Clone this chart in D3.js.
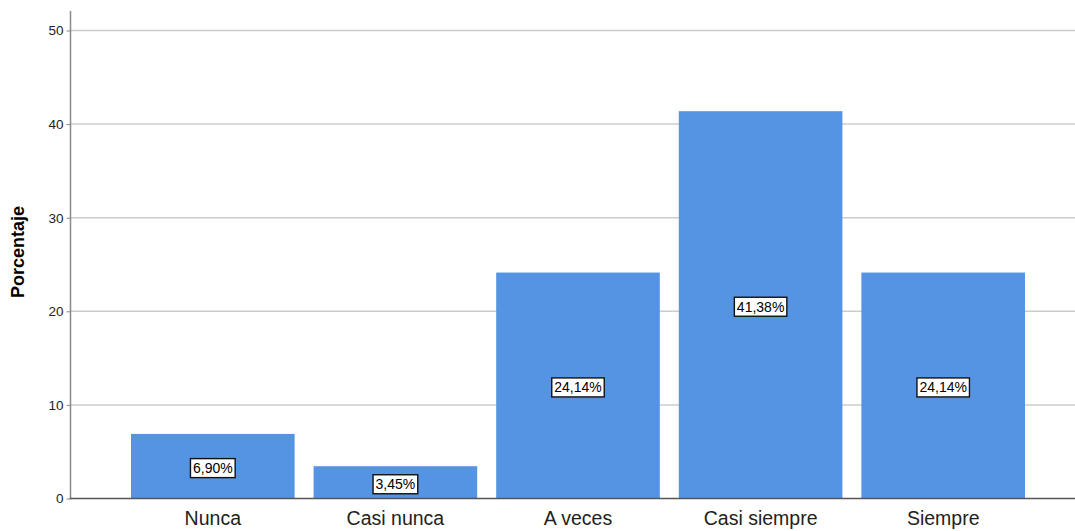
<!DOCTYPE html>
<html>
<head>
<meta charset="utf-8">
<script src="https://cdn.jsdelivr.net/npm/d3@7"></script>
<style>
  html, body { margin: 0; padding: 0; background: #ffffff; }
  svg { display: block; }
</style>
</head>
<body>
<svg id="chart" width="1075" height="531"></svg>
<script>
// Respuestas y porcentajes
const categories = ["Nunca", "Casi nunca", "A veces", "Casi siempre", "Siempre"];
const percentages = [6.90, 3.45, 24.14, 41.38, 24.14];
const yTicks = [0, 10, 20, 30, 40, 50];

const svg = d3.select("#chart");
const W = 1075, H = 531;
const axisX = 70.5, axisTop = 11, yZero = 498.5, yFifty = 30.5;

const y = d3.scaleLinear().domain([0, 50]).range([yZero, yFifty]);
const x = d3.scaleBand().domain(categories).range([131, 1025]).paddingInner(0.104).paddingOuter(0);

// Líneas de cuadrícula
svg.append("g")
  .selectAll("line")
  .data(yTicks.filter(d => d > 0))
  .join("line")
  .attr("x1", axisX).attr("x2", W)
  .attr("y1", d => y(d)).attr("y2", d => y(d))
  .attr("stroke", "#cccccc").attr("stroke-width", 1.5);

// Barras
svg.append("g")
  .selectAll("rect")
  .data(percentages)
  .join("rect")
  .attr("x", (d, i) => x(categories[i]))
  .attr("width", x.bandwidth())
  .attr("y", d => y(d))
  .attr("height", d => yZero - y(d))
  .attr("fill", "#5594e2");

// Eje Y
const yAxis = svg.append("g")
  .attr("transform", `translate(${axisX},0)`)
  .call(d3.axisLeft(y).tickValues(yTicks).tickSize(4).tickFormat(d3.format("d")));
yAxis.select(".domain").remove();
yAxis.selectAll(".tick line").attr("stroke", "#888888");
yAxis.selectAll(".tick text")
  .attr("font-family", "Liberation Sans, Arial, sans-serif")
  .attr("font-size", 13.5).attr("fill", "#222222").attr("x", -7);
svg.append("line")
  .attr("x1", axisX).attr("x2", axisX)
  .attr("y1", axisTop).attr("y2", yZero)
  .attr("stroke", "#888888").attr("stroke-width", 1.5);

// Eje X
const xAxis = svg.append("g")
  .attr("transform", `translate(0,${yZero})`)
  .call(d3.axisBottom(x).tickSize(0));
xAxis.select(".domain").remove();
xAxis.selectAll(".tick text")
  .attr("font-family", "Liberation Sans, Arial, sans-serif")
  .attr("font-size", 19.5).attr("fill", "#222222").attr("y", 13).attr("dy", "0.71em");
svg.append("line")
  .attr("x1", axisX - 0.75).attr("x2", W)
  .attr("y1", yZero).attr("y2", yZero)
  .attr("stroke", "#555555").attr("stroke-width", 1.5);

// Título del eje Y
svg.append("text")
  .attr("transform", `translate(24,252) rotate(-90)`)
  .attr("text-anchor", "middle")
  .attr("font-family", "Liberation Sans, Arial, sans-serif")
  .attr("font-size", 18).attr("font-weight", "bold").attr("fill", "#000")
  .text("Porcentaje");

// Etiquetas de valor
const fmt = v => v.toFixed(2).replace(".", ",") + "%";
const labels = svg.append("g")
  .selectAll("g")
  .data(percentages)
  .join("g")
  .attr("transform", (d, i) => `translate(${x(categories[i]) + x.bandwidth() / 2},${(y(d) + yZero) / 2 + 2})`);
labels.append("text")
  .attr("text-anchor", "middle")
  .attr("dy", "0.35em")
  .attr("font-family", "Liberation Sans, Arial, sans-serif")
  .attr("font-size", 14).attr("fill", "#000")
  .text(d => fmt(d));
labels.each(function () {
  const g = d3.select(this);
  const bb = g.select("text").node().getBBox();
  g.insert("rect", "text")
    .attr("x", bb.x - 2.5).attr("y", bb.y - 1.5)
    .attr("width", bb.width + 5).attr("height", bb.height + 3)
    .attr("fill", "#ffffff").attr("stroke", "#111111").attr("stroke-width", 1.4);
});
</script>
</body>
</html>
